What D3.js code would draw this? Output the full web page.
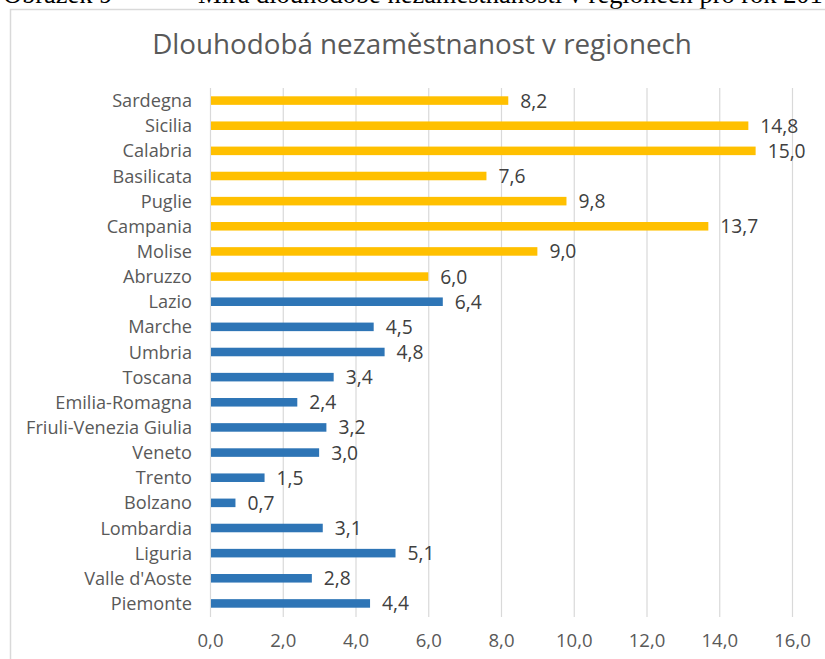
<!DOCTYPE html>
<html><head><meta charset="utf-8">
<script src="https://cdn.jsdelivr.net/npm/d3@7"></script>
<style>body{margin:0;background:#fff;}svg{display:block;}</style>
</head><body>
<svg id="c" width="825" height="659"></svg>
<script>
const categories = ["Sardegna","Sicilia","Calabria","Basilicata","Puglie","Campania","Molise","Abruzzo","Lazio","Marche","Umbria","Toscana","Emilia-Romagna","Friuli-Venezia Giulia","Veneto","Trento","Bolzano","Lombardia","Liguria","Valle d'Aoste","Piemonte"];
const values = [8.2,14.8,15.0,7.6,9.8,13.7,9.0,6.0,6.4,4.5,4.8,3.4,2.4,3.2,3.0,1.5,0.7,3.1,5.1,2.8,4.4];
const southRegions = ["Sardegna","Sicilia","Calabria","Basilicata","Puglie","Campania","Molise","Abruzzo"];
const ticks = [0,2,4,6,8,10,12,14,16];
const title = "Dlouhodobá nezaměstnanost v regionech";
const captionLabel = "Obrázek 9";
const captionText = "Míra dlouhodobé nezaměstnanosti v regionech pro rok 2017";

const svg = d3.select("#c");
const font = "'Open Sans', sans-serif";
const serif = "'Liberation Serif', serif";
const fmt = v => v.toFixed(1).replace(".", ",");

// font size so that sample text reaches target width
function fitSize(sample, target, fam) {
  const t = svg.append("text").attr("font-family", fam).attr("font-size", 20).text(sample);
  const w = t.node().getComputedTextLength();
  t.remove();
  return 20 * target / w;
}
const titleSize = fitSize(title, 540, font);
const catSize = fitSize("Friuli-Venezia Giulia", 166, font);
const tickSize = fitSize("0,0", 26, font);
const valSize = fitSize("6,4", 27, font);
const capSize = fitSize("Míra dlouhodobé nezaměstnanosti v regionech pro rok 201", 625, serif);

// caption partially cut off at the top
svg.append("text").attr("x",3).attr("y",2.5).attr("font-family",serif).attr("font-size",capSize).attr("fill","#000").text(captionLabel);
svg.append("text").attr("x",198).attr("y",2.5).attr("font-family",serif).attr("font-size",capSize).attr("fill","#000").text(captionText);

// chart border
svg.append("rect").attr("x",10.5).attr("y",9.5).attr("width",830).attr("height",660).attr("fill","#fff").attr("stroke","#d9d9d9").attr("stroke-width",1.5);

svg.append("text").attr("x",422).attr("y",54).attr("text-anchor","middle").attr("font-family",font).attr("font-size",titleSize).attr("fill","#595959").text(title);

const x = d3.scaleLinear().domain([0,16]).range([210,792]);
const y = d3.scaleBand().domain(categories).range([88,616]).paddingInner(0.66).paddingOuter(0.33);

// gridlines
svg.append("g").selectAll("line").data(ticks).join("line")
  .attr("x1",d=>x(d)+0.5).attr("x2",d=>x(d)+0.5).attr("y1",88).attr("y2",617)
  .attr("stroke","#d9d9d9").attr("stroke-width",1.2);

// bars
svg.append("g").selectAll("rect").data(categories).join("rect")
  .attr("x",x(0)+1).attr("y",d=>y(d)).attr("height",y.bandwidth())
  .attr("width",(d,i)=>x(values[i])-x(0)-1)
  .attr("fill",d=>southRegions.includes(d)?"#FFC000":"#2E75B6");

// value labels
svg.append("g").selectAll("text").data(categories).join("text")
  .attr("x",(d,i)=>x(values[i])+12).attr("y",d=>y(d)+y.bandwidth()/2).attr("dy","0.36em")
  .attr("font-family",font).attr("font-size",valSize).attr("fill","#404040")
  .text((d,i)=>fmt(values[i]));

// category axis
const ya = d3.axisLeft(y).tickSize(0).tickPadding(18);
const gy = svg.append("g").attr("transform",`translate(${x(0)},0)`).call(ya);
gy.select(".domain").remove();
gy.selectAll("text").attr("font-family",font).attr("font-size",catSize).attr("fill","#595959").attr("dy","0.36em");

// value axis
const xa = d3.axisBottom(x).tickValues(ticks).tickSize(0).tickPadding(0).tickFormat(fmt);
const gx = svg.append("g").attr("transform","translate(0,647)").call(xa);
gx.select(".domain").remove();
gx.selectAll("text").attr("font-family",font).attr("font-size",tickSize).attr("fill","#595959").attr("dy","0");
</script>
</body></html>
